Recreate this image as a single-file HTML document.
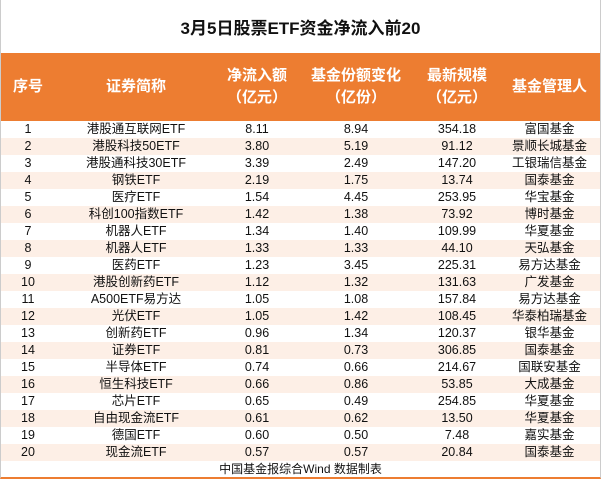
<!DOCTYPE html>
<html><head><meta charset="utf-8"><style>
body{margin:0;width:601px;height:479px;background:#fff;font-family:"Liberation Sans","Noto Sans CJK SC",sans-serif;overflow:hidden}
#wrap{position:absolute;left:0;top:0;width:599px;height:477px;border-left:1px solid #ccc;border-right:1px solid #ccc;border-bottom:2px solid #ED7D31}
#title{position:absolute;top:0;left:0;width:599px;height:53px;line-height:58px;text-align:center;font-size:17px;font-weight:bold;color:#111}
#head{position:absolute;top:53px;left:0;width:599px;height:68px;background:#ED7D31;color:#fff;font-size:15px;font-weight:bold}
.hc{position:absolute;top:0;height:68px;display:flex;align-items:center;justify-content:center;text-align:center;line-height:22px}
.row{position:absolute;left:0;width:599px;height:17px;font-size:12.5px;color:#111;line-height:17px}
.row.s{background:#FDEFE6}
.c{position:absolute;top:0;text-align:center}
#foot{position:absolute;top:461px;left:0;width:599px;height:16px;line-height:16px;text-align:center;font-size:12px;color:#111}
</style></head><body>
<div id="wrap">
<div id="title">3月5日股票ETF资金净流入前20</div>
<div id="head">
<div class="hc" style="left:0;width:54px">序号</div>
<div class="hc" style="left:54px;width:162px">证券简称</div>
<div class="hc" style="left:216px;width:80px">净流入额<br>（亿元）</div>
<div class="hc" style="left:296px;width:118px">基金份额变化<br>（亿份）</div>
<div class="hc" style="left:414px;width:84px">最新规模<br>（亿元）</div>
<div class="hc" style="left:498px;width:101px">基金管理人</div>
</div>
<div id="rows"></div>
<div id="foot">中国基金报综合Wind 数据制表</div>
</div>
<script>
const names=["港股通互联网ETF","港股科技50ETF","港股通科技30ETF","钢铁ETF","医疗ETF","科创100指数ETF","机器人ETF","机器人ETF","医药ETF","港股创新药ETF","A500ETF易方达","光伏ETF","创新药ETF","证券ETF","半导体ETF","恒生科技ETF","芯片ETF","自由现金流ETF","德国ETF","现金流ETF"];
const inflow=["8.11","3.80","3.39","2.19","1.54","1.42","1.34","1.33","1.23","1.12","1.05","1.05","0.96","0.81","0.74","0.66","0.65","0.61","0.60","0.57"];
const shares=["8.94","5.19","2.49","1.75","4.45","1.38","1.40","1.33","3.45","1.32","1.08","1.42","1.34","0.73","0.66","0.86","0.49","0.62","0.50","0.57"];
const scale=["354.18","91.12","147.20","13.74","253.95","73.92","109.99","44.10","225.31","131.63","157.84","108.45","120.37","306.85","214.67","53.85","254.85","13.50","7.48","20.84"];
const managers=["富国基金","景顺长城基金","工银瑞信基金","国泰基金","华宝基金","博时基金","华夏基金","天弘基金","易方达基金","广发基金","易方达基金","华泰柏瑞基金","银华基金","国泰基金","国联安基金","大成基金","华夏基金","华夏基金","嘉实基金","国泰基金"];
const cols=[[0,54],[54,162],[216,80],[296,118],[414,84],[498,101]];
const R=document.getElementById('rows');
for(let i=0;i<names.length;i++){
 const r=document.createElement('div');
 
 
 r.className='row'+(i%2?' s':'');
 r.style.top=(121+i*17)+'px';
 const vals=[String(i+1),names[i],inflow[i],shares[i],scale[i],managers[i]];
 vals.forEach((v,j)=>{
  const c=document.createElement('div');
  
  
  c.className='c';c.style.left=cols[j][0]+'px';c.style.width=cols[j][1]+'px';
  c.textContent=v;r.appendChild(c);
 });
 R.appendChild(r);
}
</script>
</body></html>
